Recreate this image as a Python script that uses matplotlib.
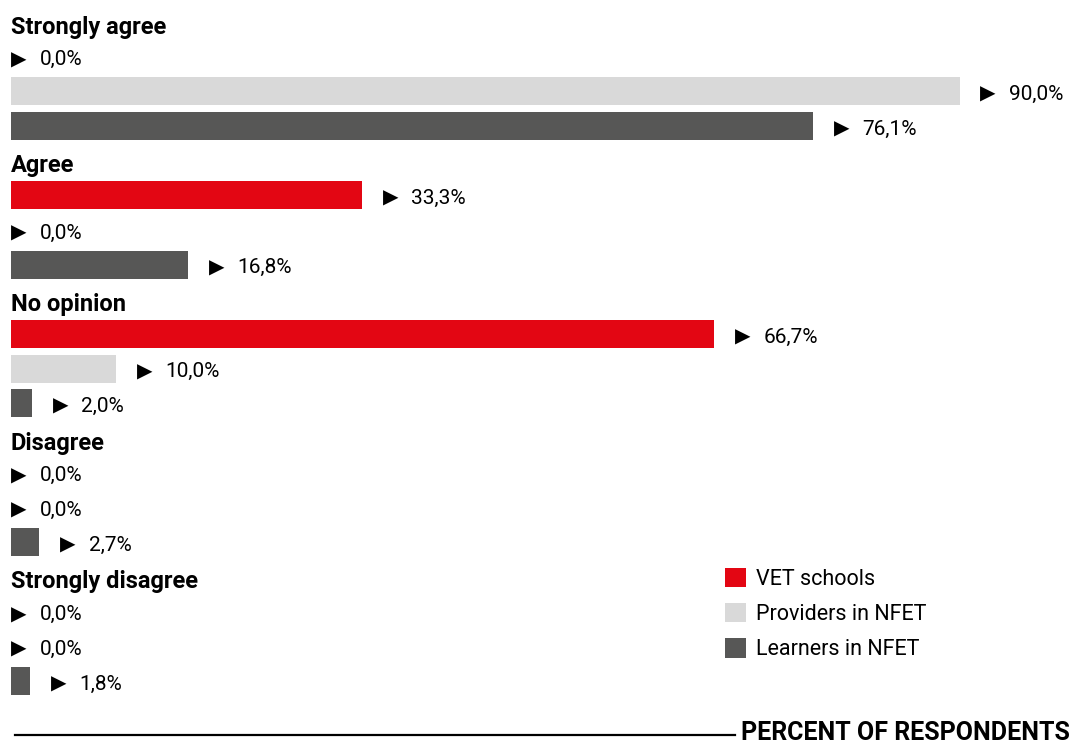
import matplotlib
matplotlib.use('Agg')
import matplotlib.pyplot as plt
from matplotlib.patches import Patch

plt.rcParams['font.family'] = ['Roboto', 'DejaVu Sans']

categories = ['Strongly agree', 'Agree', 'No opinion', 'Disagree', 'Strongly disagree']
series = ['VET schools', 'Providers in NFET', 'Learners in NFET']
vet = [0.0, 33.3, 66.7, 0.0, 0.0]
providers = [90.0, 0.0, 10.0, 0.0, 0.0]
learners = [76.1, 16.8, 2.0, 2.7, 1.8]
colors = ['#e30613', '#d9d9d9', '#575756']

W, H = 1073, 744
fig = plt.figure(figsize=(W / 100, H / 100), dpi=100)
# axes spans the whole height; one slot per title or bar row
ax = fig.add_axes([11 / W, 0, 1054 / W, 1])
slot = 34.68
ax.set_ylim((H - 25) / slot, -25 / slot)
ax.set_xlim(0, 100)
ax.axis('off')

for i, cat in enumerate(categories):
    y0 = i * 4
    ax.text(0, y0 + 0.06, cat, fontsize=17, fontweight='bold', va='center', ha='left')
    for j, vals in enumerate([vet, providers, learners]):
        v = vals[i]
        y = y0 + 1 + j
        if v > 0:
            ax.barh(y - 0.09, v, height=0.81, color=colors[j], left=0)
        off = 15 if v > 0 else 0
        ax.annotate('\u25b6', (v, y), xytext=(off, 0), textcoords='offset points',
                    fontsize=14.5, va='center', ha='left', family='DejaVu Sans')
        ax.annotate(f'{v:.1f}'.replace('.', ',') + '%', (v, y), xytext=(off + 20.5, 0),
                    textcoords='offset points', fontsize=15, va='center', ha='left')

handles = [Patch(facecolor=c, edgecolor='none') for c in colors]
fig.legend(handles, series, loc='upper left', bbox_to_anchor=(716 / W, 1 - 559 / H),
           frameon=False, prop={'size': 15.5},
           handlelength=1.0, handleheight=1.0,
           handletextpad=0.45, labelspacing=0.62, borderaxespad=0)

# bottom caption with rule
fig.add_artist(plt.Line2D([15 / W, 735 / W], [1 - 735 / H, 1 - 735 / H], color='black', lw=1.6))
fig.text(1070 / W, 1 - 733 / H, 'PERCENT OF RESPONDENTS', fontsize=18, fontweight='bold',
         ha='right', va='center')

fig.savefig('out.png', dpi=100)
